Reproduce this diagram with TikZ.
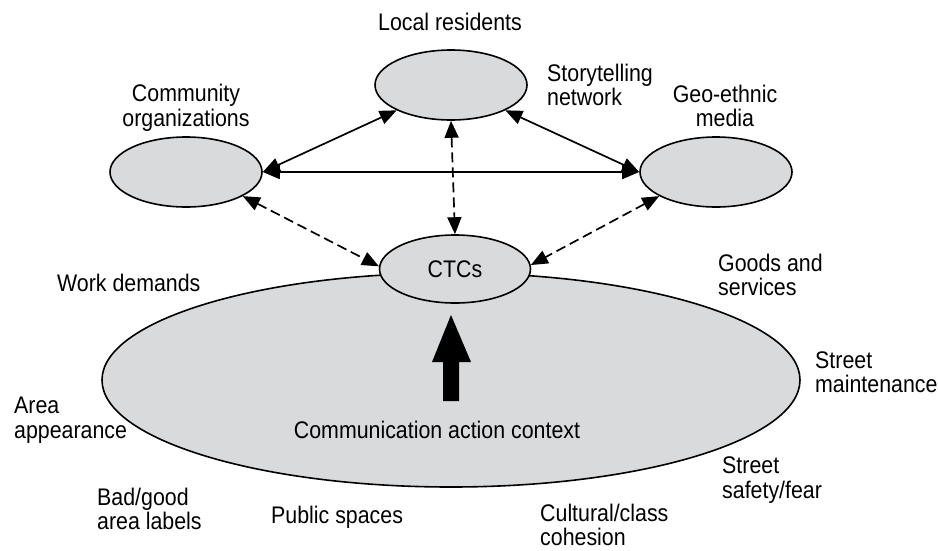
\documentclass[tikz,border=0pt]{standalone}
\usepackage{fontspec}
\setmainfont{Liberation Sans}[FakeStretch=0.89]
\usetikzlibrary{shapes.geometric,arrows.meta}
\definecolor{ovalgray}{RGB}{217,218,220}
\begin{document}
\begin{tikzpicture}[x=1pt,y=-1pt,
  oval/.style={ellipse,draw=black,line width=1.6pt,fill=ovalgray,inner sep=0pt,
    minimum width=152pt,minimum height=70pt},
  lbl/.style={inner sep=0pt,font=\fontsize{24}{24.5}\selectfont},
  solidlink/.style={line width=1.7pt,{Triangle[length=17pt,width=14pt]}-{Triangle[length=17pt,width=14pt]}},
  dashlink/.style={solidlink,dash pattern=on 10pt off 5pt}]
\useasboundingbox (0,0) rectangle (938,550);

% big context ellipse
\node[oval, minimum width=698pt, minimum height=214pt] (ctx) at (451,380) {};
\node[lbl] (ctxlabel) at (437,430) {Communication action context};
\fill[black] (451,315) -- (471,362) -- (459,362) -- (459,401) -- (443,401)
  -- (443,362) -- (432,362) -- cycle;

% ovals
\node[oval] (res) at (451,85) {};
\node[oval] (org) at (186,172) {};
\node[oval] (geo) at (716,172) {};
\node[oval, minimum width=151pt, minimum height=68pt, font=\fontsize{24}{24.5}\selectfont] (ctc) at (455,269) {CTCs};

% connectors
\draw[solidlink] (org.east) -- (geo.west);
\draw[solidlink] (org.east) -- (res.205);
\draw[solidlink] (res.335) -- (geo.west);
\draw[dashlink] (org.337) -- (ctc.178);
\draw[dashlink] (res.south) -- (ctc.north);
\draw[dashlink] (geo.203) -- (ctc.3);

% labels
\node[lbl] (lres) at (450,22) {Local residents};
\node[lbl, align=left, anchor=west] (lstory) at (547,85) {Storytelling\\network};
\node[lbl, align=center] (lorg) at (186,108) {Community\\organizations};
\node[lbl, align=center] (lgeo) at (725,106) {Geo-ethnic\\media};
\node[lbl, anchor=west] (lwork) at (57,283) {Work demands};
\node[lbl, align=left, anchor=west] (lgoods) at (718,275) {Goods and\\services};
\node[lbl, align=left, anchor=west] (lmaint) at (815,372) {Street\\maintenance};
\node[lbl, align=left, anchor=west] (larea) at (14,420) {Area\\appearance};
\node[lbl, align=left, anchor=west] (lsafe) at (722,480) {Street\\safety/fear};
\node[lbl, align=left, anchor=west] (lbad) at (97,509) {Bad/good\\area labels};
\node[lbl, anchor=west] (lpub) at (271,517) {Public spaces};
\node[lbl, align=left, anchor=west] (lcult) at (540,525) {Cultural/class\\cohesion};
\end{tikzpicture}
\end{document}
